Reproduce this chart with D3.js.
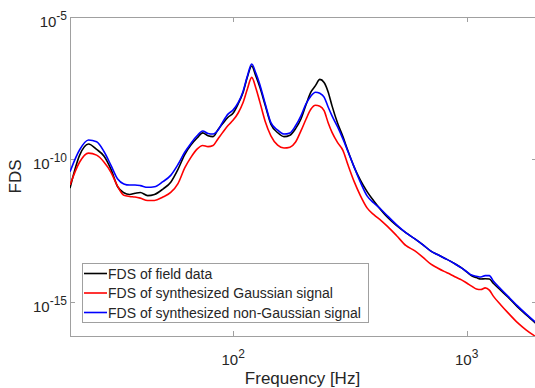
<!DOCTYPE html>
<html>
<head>
<meta charset="utf-8">
<script src="https://cdn.jsdelivr.net/npm/d3@7/dist/d3.min.js"></script>
<style>
  body { margin: 0; background: #fff; }
  svg { font-family: Arial, "Liberation Sans", sans-serif; }
</style>
</head>
<body>
<div id="chart"></div>
<script>
// frequency grid [Hz]
var freq = [20, 22, 24, 26, 28, 30, 32, 34, 36, 38, 40, 43, 46, 50, 54, 58, 62, 66, 70, 74, 78, 82, 86, 90, 95,
    100, 105, 110, 115, 120, 125, 130, 137, 145, 155, 165, 175, 185, 195, 205, 215, 225, 235, 245, 255, 265,
    280, 295, 310, 330, 350, 375, 400, 430, 460, 500, 550, 600, 650, 700, 750, 800, 850, 900, 950,
    1000, 1050, 1100, 1150, 1200, 1250, 1300, 1400, 1500, 1650, 1800, 2000];

// FDS, stored as log10 exponents
var fieldExp = [-11.01, -9.85, -9.46, -9.65, -9.89, -10.36, -10.96, -11.17, -11.23, -11.19, -11.16, -11.27, -11.23,
    -11.04, -10.80, -10.35, -9.83, -9.49, -9.25, -9.07, -9.17, -9.20, -8.96, -8.75, -8.52,
    -8.37, -8.05, -7.67, -7.11, -6.72, -7.07, -7.46, -8.09, -8.76, -9.06, -9.20, -9.15, -8.92, -8.58, -8.08,
    -7.64, -7.41, -7.19, -7.30, -7.63, -8.12, -8.73, -9.20, -9.70, -10.28, -10.72, -11.14, -11.46, -11.78,
    -12.05, -12.32, -12.58, -12.79, -13.00, -13.21, -13.34, -13.46, -13.57, -13.69, -13.81,
    -13.95, -14.09, -14.15, -14.20, -14.19, -14.20, -14.35, -14.60, -14.83, -15.18, -15.46, -15.79];

var gaussExp = [-10.90, -10.09, -9.78, -9.85, -10.10, -10.46, -10.95, -11.26, -11.30, -11.32, -11.36, -11.44, -11.44,
    -11.32, -11.16, -10.85, -10.30, -9.92, -9.64, -9.51, -9.55, -9.51, -9.28, -9.06, -8.81,
    -8.62, -8.37, -8.02, -7.53, -7.12, -7.49, -7.98, -8.66, -9.17, -9.50, -9.60, -9.57, -9.39, -9.00, -8.59,
    -8.24, -8.10, -8.13, -8.29, -8.71, -9.05, -9.41, -9.68, -10.19, -10.79, -11.26, -11.71, -11.94, -12.15,
    -12.37, -12.67, -13.03, -13.21, -13.44, -13.67, -13.81, -13.93, -14.03, -14.14, -14.23,
    -14.34, -14.45, -14.55, -14.57, -14.51, -14.59, -14.80, -15.11, -15.38, -15.73, -15.99, -16.25];

var nonGaussExp = [-10.43, -9.66, -9.32, -9.38, -9.73, -10.22, -10.69, -10.86, -10.90, -10.90, -10.92, -10.98, -10.96,
    -10.78, -10.56, -10.18, -9.75, -9.43, -9.17, -9.00, -9.09, -9.11, -8.98, -8.70, -8.41,
    -8.26, -8.01, -7.63, -7.07, -6.65, -6.97, -7.37, -8.04, -8.71, -8.97, -9.11, -9.07, -8.82, -8.47, -8.05,
    -7.78, -7.64, -7.68, -7.81, -8.16, -8.47, -8.86, -9.28, -9.72, -10.28, -10.79, -11.29, -11.53, -11.76,
    -12.00, -12.29, -12.58, -12.79, -13.00, -13.21, -13.34, -13.46, -13.57, -13.69, -13.81,
    -13.94, -14.06, -14.10, -14.13, -14.08, -14.08, -14.27, -14.55, -14.80, -15.14, -15.43, -15.76];

var seriesNames = ["FDS of field data", "FDS of synthesized Gaussian signal", "FDS of synthesized non-Gaussian signal"];
var seriesColors = ["#000000", "#ff0000", "#0000ff"];

var xTicks = [100, 1000];
var xTickExp = ["2", "3"];
var yTicks = [1e-5, 1e-10, 1e-15];
var yTickExp = ["-5", "-10", "-15"];

var W = 535, H = 388;
var margin = {top: 17, right: -2, bottom: 52, left: 70};
var width = W - margin.left - margin.right;
var height = H - margin.top - margin.bottom;

var x = d3.scaleLog().domain([20, 2000]).range([0, width]);
var y = d3.scaleLog().domain([Math.pow(10, -16.2), 1e-5]).range([height, 0]);

var series = [fieldExp, gaussExp, nonGaussExp].map(function (arr, i) {
    return {
        name: seriesNames[i],
        color: seriesColors[i],
        values: arr.map(function (e, j) { return {x: freq[j], y: Math.pow(10, e)}; })
    };
});

var svg = d3.select("#chart").append("svg")
    .attr("width", W)
    .attr("height", H);

var vis = svg.append("g")
    .attr("transform", "translate(" + margin.left + "," + margin.top + ")");

var axisColor = "#a0a0a0";
var textColor = "#262626";

// axes with inward ticks, box on all four sides
vis.append("g").attr("class", "xaxis")
    .attr("transform", "translate(0," + height + ")")
    .call(d3.axisBottom(x).tickValues(xTicks).tickSize(-5).tickFormat(""));
vis.append("g").attr("class", "xaxis")
    .call(d3.axisTop(x).tickValues(xTicks).tickSize(-5).tickFormat(""));
vis.append("g").attr("class", "yaxis")
    .call(d3.axisLeft(y).tickValues(yTicks).tickSize(-5).tickFormat(""));
vis.append("g").attr("class", "yaxis")
    .attr("transform", "translate(" + width + ",0)")
    .call(d3.axisRight(y).tickValues(yTicks).tickSize(-5).tickFormat(""));

vis.selectAll(".xaxis path, .yaxis path, .xaxis line, .yaxis line")
    .style("stroke", axisColor)
    .style("stroke-width", 1)
    .attr("shape-rendering", "crispEdges");

// tick labels with exponents
var xl = vis.selectAll(".xlabel").data(xTicks).enter().append("text")
    .attr("class", "xlabel")
    .attr("x", function (d) { return x(d); })
    .attr("y", height + 29)
    .style("text-anchor", "middle")
    .style("fill", textColor)
    .style("font-size", "15px");
xl.append("tspan").text("10");
xl.append("tspan").attr("dy", -7).style("font-size", "12px")
    .text(function (d, i) { return xTickExp[i]; });

var yl = vis.selectAll(".ylabel").data(yTicks).enter().append("text")
    .attr("class", "ylabel")
    .attr("x", -3)
    .attr("y", function (d) { return y(d) + 10; })
    .style("text-anchor", "end")
    .style("fill", textColor)
    .style("font-size", "15px");
yl.append("tspan").text("10");
yl.append("tspan").attr("dy", -7).style("font-size", "12px")
    .text(function (d, i) { return yTickExp[i]; });

vis.append("text")
    .attr("x", width / 2 - 1)
    .attr("y", height + 48)
    .style("text-anchor", "middle")
    .style("fill", textColor)
    .style("font-size", "17px")
    .text("Frequency [Hz]");

vis.append("text")
    .attr("transform", "rotate(-90)")
    .attr("x", -height / 2)
    .attr("y", -49)
    .style("text-anchor", "middle")
    .style("fill", textColor)
    .style("font-size", "17px")
    .text("FDS");

// curves
vis.append("clipPath").attr("id", "plot_clip")
    .append("rect").attr("width", width).attr("height", height);

var line = d3.line()
    .x(function (d) { return x(d.x); })
    .y(function (d) { return y(d.y); })
    .curve(d3.curveMonotoneX);

vis.append("g").attr("clip-path", "url(#plot_clip)")
    .selectAll("path.line").data(series).enter().append("path")
    .attr("class", "line")
    .attr("d", function (d) { return line(d.values); })
    .style("fill", "none")
    .style("stroke", function (d) { return d.color; })
    .style("stroke-width", 1.6);

// legend
var lg = vis.append("g").attr("transform", "translate(12,246)");
lg.append("rect")
    .attr("width", 286)
    .attr("height", 59)
    .style("fill", "#fff")
    .style("stroke", axisColor)
    .attr("shape-rendering", "crispEdges");
var items = lg.selectAll(".item").data(series).enter().append("g")
    .attr("class", "item")
    .attr("transform", function (d, i) { return "translate(0," + (10.5 + i * 19.5) + ")"; });
items.append("line")
    .attr("x1", 2).attr("x2", 25)
    .style("stroke", function (d) { return d.color; })
    .style("stroke-width", 1.6);
items.append("text")
    .attr("x", 26)
    .attr("y", 5)
    .style("fill", textColor)
    .style("font-size", "14px")
    .text(function (d) { return d.name; });
</script>
</body>
</html>
